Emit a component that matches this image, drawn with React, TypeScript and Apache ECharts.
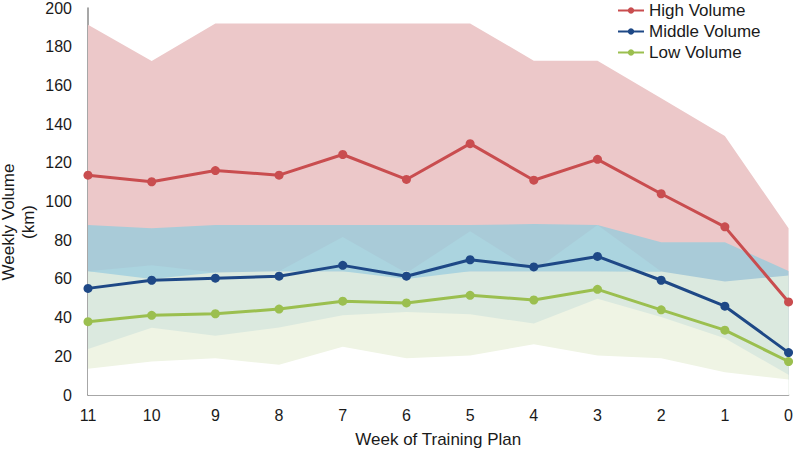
import React, { useEffect, useRef } from "react";
import * as echarts from "echarts";

const weeks = ["11", "10", "9", "8", "7", "6", "5", "4", "3", "2", "1", "0"];

const highVolume = [113.6, 110.2, 116, 113.6, 124.3, 111.4, 129.9, 111, 121.8, 104, 86.9, 48.1];
const middleVolume = [55.1, 59.3, 60.4, 61.4, 67, 61.4, 69.9, 66.2, 71.6, 59.3, 45.9, 21.9];
const lowVolume = [37.9, 41.2, 42, 44.4, 48.5, 47.6, 51.5, 49.1, 54.6, 44, 33.5, 17.3];

// shaded band boundaries (painted in order, each filled down to 0)
const highBandTop = [191.3, 172.6, 192, 192, 192, 192, 192, 172.8, 172.8, 153.3, 133.8, 86.2];
const middleBandTop = [87.8, 86.2, 87.8, 87.8, 87.8, 87.8, 87.8, 88.4, 87.8, 78.9, 78.9, 64.1];
const lowBandTop = [64, 63.5, 63.3, 64, 64, 64, 64, 64, 64, 63.8, 58.7, 61.7];
const middleInnerLow = [64, 59.9, 63.3, 64, 64, 59.9, 64, 64, 64, 63.8, 58.7, 61.7];
const middleInnerTop = [64, 67, 63.3, 64, 81.6, 63, 84.6, 64, 87.9, 63.8, 58.7, 61.7];
const lowInnerTop = [23.8, 34.7, 30.6, 34.9, 41.2, 42.9, 41.7, 36.9, 49.7, 40.3, 29.3, 10.5];
const lowInnerBottom = [13.6, 17.3, 19, 15.6, 25, 19, 20.4, 26.2, 20.4, 19, 11.7, 8];

const FONT = "Liberation Sans, Arial, sans-serif";

export default function App() {
  const ref = useRef<HTMLDivElement>(null);

  useEffect(() => {
    document.body.style.margin = "0";
    if (!ref.current) return;
    const chart = echarts.init(ref.current, undefined, { renderer: "svg" });

    const area = (name: string, data: number[], color: string, extra: any = {}) => ({
      name,
      type: "line",
      data,
      symbol: "none",
      lineStyle: { width: 0 },
      areaStyle: { color, opacity: 1 },
      silent: true,
      z: 1,
      ...extra,
    });

    const line = (name: string, data: number[], color: string) => ({
      name,
      type: "line",
      data,
      symbol: "circle",
      symbolSize: 9,
      lineStyle: { color, width: 3 },
      itemStyle: { color },
      z: 3,
    });

    chart.setOption({
      animation: false,
      textStyle: { fontFamily: FONT },
      grid: { left: 88, right: 4, top: 7, bottom: 54, containLabel: false },
      legend: {
        data: ["High Volume", "Middle Volume", "Low Volume"],
        orient: "vertical",
        left: 617,
        top: 2,
        padding: 0,
        itemWidth: 26,
        itemHeight: 8,
        itemGap: 4,
        textStyle: { fontSize: 17, color: "#1a1a1a", lineHeight: 16, fontFamily: FONT },
      },
      xAxis: {
        type: "category",
        data: weeks,
        boundaryGap: false,
        axisLine: { lineStyle: { color: "#8a8a8a", width: 1.5 } },
        axisTick: { show: false },
        axisLabel: { fontSize: 16, color: "#1a1a1a", margin: 12, fontFamily: FONT },
        name: "Week of Training Plan",
        nameLocation: "middle",
        nameGap: 36,
        nameTextStyle: { fontSize: 17, color: "#1a1a1a", fontFamily: FONT },
      },
      yAxis: {
        type: "value",
        min: 0,
        max: 200,
        interval: 20,
        axisLine: { show: true, lineStyle: { color: "#8a8a8a", width: 1.5 } },
        axisTick: { show: false },
        splitLine: { show: false },
        axisLabel: { fontSize: 16, color: "#1a1a1a", margin: 16, fontFamily: FONT },
      },
      graphic: [
        {
          type: "text",
          x: 18.5,
          y: 222,
          rotation: Math.PI / 2,
          style: {
            text: "Weekly Volume\n(km)",
            fontSize: 17,
            lineHeight: 20,
            fill: "#1a1a1a",
            fontFamily: FONT,
            textAlign: "center",
            textVerticalAlign: "middle",
          },
        },
      ],
      series: [
        area("highBand", highBandTop, "#ecc8c9"),
        area("middleBand", middleBandTop, "#a9cbd8"),
        area("lowBand", lowBandTop, "#dbe9df"),
        {
          name: "middleInnerBase",
          type: "line",
          data: middleInnerLow,
          stack: "mid",
          symbol: "none",
          lineStyle: { width: 0 },
          silent: true,
          z: 1,
        },
        area(
          "middleInner",
          middleInnerTop.map((v, i) => +(v - middleInnerLow[i]).toFixed(2)),
          "#abd4df",
          { stack: "mid" }
        ),
        area("lowInner", lowInnerTop, "#eff4e4"),
        area("lowBottom", lowInnerBottom, "#ffffff"),
        line("Low Volume", lowVolume, "#9bbf4f"),
        line("Middle Volume", middleVolume, "#1e4886"),
        line("High Volume", highVolume, "#c94d4f"),
      ],
    });

    return () => chart.dispose();
  }, []);

  return <div ref={ref} style={{ width: 796, height: 453 }} />;
}
